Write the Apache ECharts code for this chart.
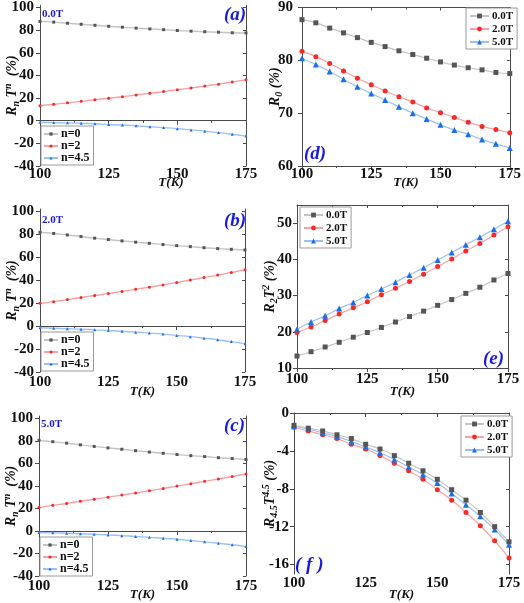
<!DOCTYPE html>
<html>
<head>
<meta charset="utf-8">
<script src="https://cdn.jsdelivr.net/npm/echarts@6/dist/echarts.min.js"></script>
<style>html,body{margin:0;padding:0;background:#fff}#c{width:524px;height:603px}</style>
</head>
<body>
<div id="c"></div>
<script>
// ---- data ----
const T = [100,105,110,115,120,125,130,135,140,145,150,155,160,165,170,175];
// R0 (n=0)
const r0_0T = [87.7,87.1,86.1,85.2,84.3,83.4,82.6,81.8,81.1,80.4,79.7,79.1,78.6,78.2,77.7,77.5];
const r0_2T = [81.7,80.7,79.4,78.0,76.6,75.4,74.2,73.1,72.1,71.0,70.1,69.2,68.3,67.5,66.9,66.3];
const r0_5T = [80.4,79.2,77.9,76.4,75.0,73.7,72.5,71.2,70.0,68.9,67.8,66.8,66.0,65.0,64.2,63.4];
// R2 T^2 (n=2)
const r2_0T = [13.3,14.5,15.8,17.1,18.5,19.8,21.2,22.7,24.2,25.7,27.3,28.9,30.6,32.3,34.3,36.1];
const r2_2T = [19.8,21.3,23.1,24.9,26.6,28.3,30.2,32.0,33.9,35.9,38.0,40.1,42.3,44.4,46.7,49.0];
const r2_5T = [20.7,22.7,24.4,26.4,28.1,30.0,31.8,33.7,35.7,37.7,39.8,41.9,44.0,46.1,48.3,50.5];
// R4.5 T^4.5 (n=4.5)
const r45_0T = [-1.3,-1.6,-1.9,-2.3,-2.7,-3.3,-3.8,-4.5,-5.3,-6.1,-7.0,-8.1,-9.2,-10.5,-12.0,-13.6];
const r45_2T = [-1.5,-1.9,-2.3,-2.7,-3.3,-3.8,-4.5,-5.3,-6.1,-7.0,-8.1,-9.2,-10.5,-11.9,-13.5,-15.3];
const r45_5T = [-1.4,-1.7,-2.1,-2.5,-3.0,-3.6,-4.2,-4.9,-5.7,-6.5,-7.4,-8.5,-9.7,-10.9,-12.3,-13.9];
// tick labels
const xTicks = [100,125,150,175];
const yTicksRn = [-40,-20,0,20,40,60,80,100];
const yTicksR0 = [60,70,80,90];
const yTicksR2 = [10,20,30,40,50];
const yTicksR45 = [-16,-12,-8,-4,0];
const fieldNames = ['0.0T','2.0T','5.0T'];
const nNames = ['n=0','n=2','n=4.5'];

// ---- styles ----
const FONT = 'Liberation Serif';
const COLORS = {
  gray: {mk:'#555555', ln:'#c4c4c4', sym:'rect'},
  red:  {mk:'#f42a2a', ln:'#f7a3a3', sym:'circle'},
  blue: {mk:'#1b6fe6', ln:'#9dc0f2', sym:'triangle'}
};
const AX = '#4a4a4a';
const BLUE = '#1a1adb';

const panels = [
  {grid:{left:40, top:4, width:206, height:162}, ymin:-40, ymax:102, yticks:yTicksRn,
   yname:'{i|R}{s|n}{i| T}{p|n}{i|  (%)}', nameGap:19, yMargin:6, xGap:10, xMargin:1, xShift:56, small:true,
   series:[[nNames[0],r0_0T,'gray'],[nNames[1],r2_0T,'red'],[nNames[2],r45_0T,'blue']]},
  {grid:{left:302, top:5, width:212, height:161}, ymin:60, ymax:90, yticks:yTicksR0,
   yname:'{i|R}{s|0}{i| (%)}', nameGap:18, yMargin:9, xGap:10, xMargin:1, xShift:0, small:false,
   series:[[fieldNames[0],r0_0T,'gray'],[fieldNames[1],r0_2T,'red'],[fieldNames[2],r0_5T,'blue']]},
  {grid:{left:40, top:209, width:205, height:163}, ymin:-40, ymax:102, yticks:yTicksRn,
   yname:'{i|R}{s|n}{i| T}{p|n}{i|  (%)}', nameGap:19, yMargin:6, xGap:13, xMargin:3, xShift:0, small:true,
   series:[[nNames[0],r0_2T,'gray'],[nNames[1],r2_2T,'red'],[nNames[2],r45_2T,'blue']]},
  {grid:{left:297, top:205, width:211, height:163}, ymin:10, ymax:55, yticks:yTicksR2,
   yname:'{i|R}{s|2}{i|T}{p|2}{i| (%)}', nameGap:18, yMargin:5, xGap:17, xMargin:4, xShift:0, small:false,
   series:[[fieldNames[0],r2_0T,'gray'],[fieldNames[1],r2_2T,'red'],[fieldNames[2],r2_5T,'blue']]},
  {grid:{left:39, top:416, width:207, height:160}, ymin:-40, ymax:102, yticks:yTicksRn,
   yname:'{i|R}{s|n}{i| T}{p|n}{i|  (%)}', nameGap:19, yMargin:6, xGap:12, xMargin:3, xShift:0, small:true,
   series:[[nNames[0],r0_5T,'gray'],[nNames[1],r2_5T,'red'],[nNames[2],r45_5T,'blue']]},
  {grid:{left:294, top:413, width:215, height:161}, ymin:-17, ymax:0, yticks:yTicksR45,
   yname:'{i|R}{s|4.5}{i|T}{p|4.5}{i| (%)}', nameGap:15, yMargin:5, xGap:14, xMargin:2, xShift:0, small:false,
   series:[[fieldNames[0],r45_0T,'gray'],[fieldNames[1],r45_2T,'red'],[fieldNames[2],r45_5T,'blue']]}
];

const rich = {
  i:{fontFamily:FONT, fontStyle:'italic', fontWeight:'bold', fontSize:14, color:'#111', lineHeight:18, verticalAlign:'middle'},
  s:{fontFamily:FONT, fontStyle:'italic', fontWeight:'bold', fontSize:10, color:'#111', lineHeight:10, verticalAlign:'bottom', padding:[8,0,0,0]},
  p:{fontFamily:FONT, fontStyle:'italic', fontWeight:'bold', fontSize:10, color:'#111', lineHeight:10, verticalAlign:'top', padding:[0,0,8,0]}
};

const grids = [], xAxes = [], yAxes = [], series = [];
panels.forEach((p, gi) => {
  grids.push(Object.assign({containLabel:false}, p.grid));
  const xBase = {gridIndex:gi, type:'value', min:100, max:175, interval:25,
    splitLine:{show:false}, axisLine:{lineStyle:{color:AX, width:1}}};
  xAxes.push(Object.assign({}, xBase, {position:'bottom',
    axisTick:{inside:false, length:4, lineStyle:{color:AX}},
    minorTick:{show:true, splitNumber:2, length:2, lineStyle:{color:AX}},
    axisLabel:{fontFamily:FONT, fontWeight:'bold', fontSize:15, color:'#111', margin:p.xMargin},
    name:'T(K)', nameLocation:'middle', nameGap:p.xGap, nameMoveOverlap:false,
    nameTextStyle:{fontFamily:FONT, fontStyle:'italic', fontWeight:'bold', fontSize:13, color:'#111',
      padding:[0,0,0,p.xShift]}}));
  xAxes.push(Object.assign({}, xBase, {position:'top',
    axisTick:{inside:true, length:3, lineStyle:{color:AX}},
    minorTick:{show:true, splitNumber:2, length:2, lineStyle:{color:AX}},
    axisLabel:{show:false}}));
  const yBase = {gridIndex:gi, type:'value', min:p.ymin, max:p.ymax,
    splitLine:{show:false}, axisLine:{show:true, lineStyle:{color:AX, width:1}}};
  yAxes.push(Object.assign({}, yBase, {position:'left',
    axisTick:{show:true, inside:false, length:4, customValues:p.yticks, lineStyle:{color:AX}},
    axisLabel:{fontFamily:FONT, fontWeight:'bold', fontSize:15, color:'#111', margin:p.yMargin, customValues:p.yticks},
    name:p.yname, nameLocation:'middle', nameGap:p.nameGap, nameRotate:90, nameMoveOverlap:false,
    nameTextStyle:{rich:rich}}));
  yAxes.push(Object.assign({}, yBase, {position:'right',
    axisTick:{show:true, inside:true, length:3, customValues:p.yticks, lineStyle:{color:AX}},
    axisLabel:{show:false}}));
  p.series.forEach(([name, arr, col]) => {
    const c = COLORS[col];
    series.push({
      type:'line', name:name, xAxisIndex:gi*2, yAxisIndex:gi*2,
      data:T.map((t,i)=>[t, arr[i]]),
      smooth:true, symbol:c.sym, symbolSize:p.small ? 3 : (col==='blue'?6:5),
      itemStyle:{color:c.mk}, lineStyle:{color:c.ln, width:p.small?1.4:1.2},
      emphasis:{disabled:true}, animation:false, z:col==='gray'?3:2
    });
  });
});

function mkLegend(names, left, top, small){
  return {data:names.map(n=>({name:n})), orient:'vertical', left:left, top:top,
    itemWidth:small?14:19, itemHeight:small?4:6, itemGap:small?0:1,
    padding:small?[2,4,1,2]:[2,4,1,3],
    borderColor:'#9a9a9a', borderWidth:1, backgroundColor:'#fff',
    textStyle:{fontFamily:FONT, fontWeight:'bold', fontSize:small?12:11, color:'#111',
      lineHeight:small?11:12, padding:[0,0,0,-2]},
    selectedMode:false};
}

const legends = [
  mkLegend(nNames, 41, 126, true),
  mkLegend(nNames, 41, 332, true),
  mkLegend(nNames, 40, 537, true),
  mkLegend(fieldNames, 466, 8, false),
  mkLegend(fieldNames, 300, 207, false),
  mkLegend(fieldNames, 461, 416, false)
];

function txt(x, y, s, size, italic){
  return {type:'text', left:x, top:y, z:100, style:{text:s, fill:BLUE,
    font:(italic?'italic ':'')+'bold '+size+'px "'+FONT+'"'}};
}
const graphics = [
  txt(42, 9, '0.0T', 11, false), txt(224, 6, '(a)', 19, true),
  txt(42, 215, '2.0T', 11, false), txt(224, 212, '(b)', 19, true),
  txt(41, 419, '5.0T', 11, false), txt(224, 417, '(c)', 19, true),
  txt(304, 145, '(d)', 19, true),
  txt(483, 350, '(e)', 19, true),
  txt(295, 556, '( f )', 19, true)
];

const chart = echarts.init(document.getElementById('c'), null, {renderer:'canvas'});
chart.setOption({
  animation:false,
  backgroundColor:'#fff',
  grid:grids, xAxis:xAxes, yAxis:yAxes, series:series,
  legend:legends, graphic:graphics
});
</script>
</body>
</html>
